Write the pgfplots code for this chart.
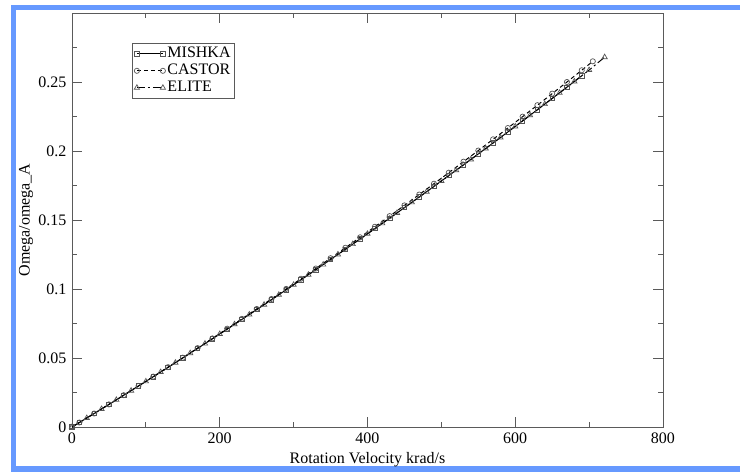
\documentclass[border=0pt]{standalone}
\usepackage{fontspec}
\setmainfont{Liberation Serif}
\usepackage{pgfplots}
\pgfplotsset{compat=1.18}
\definecolor{frameblue}{RGB}{102,153,255}
\definecolor{axgray}{RGB}{90,90,90}
\definecolor{mkgray}{RGB}{85,85,85}
\begin{document}
\fontsize{16}{19}\selectfont
\begin{tikzpicture}
\fill[white] (-72pt,-45pt) rectangle (668pt,427pt);
\fill[frameblue] (-61pt,-45pt) rectangle (-56pt,422pt);
\fill[frameblue] (-61pt,417pt) rectangle (668pt,422pt);
\fill[frameblue] (-61pt,-45pt) rectangle (668pt,-39pt);
\begin{axis}[
  at={(0pt,0pt)}, anchor=south west,
  scale only axis, width=591pt, height=414pt,
  xmin=0, xmax=800, ymin=0, ymax=0.3,
  xtick={0,200,400,600,800}, minor xtick={100,300,500,700},
  ytick={0,0.05,0.1,0.15,0.2,0.25},
  minor ytick={0.025,0.075,0.125,0.175,0.225,0.275},
  tick align=inside,
  major tick length=10pt, minor tick length=5pt,
  axis line style={axgray, line width=0.8pt},
  every tick/.style={axgray, line width=0.8pt},
  scaled y ticks=false,
  yticklabel style={/pgf/number format/fixed, /pgf/number format/precision=3},
  /pgf/number format/assume math mode=true,
  tick label style={font=\fontsize{16}{19}\selectfont},
  label style={font=\fontsize{16}{19}\selectfont},
  xlabel={Rotation Velocity krad/s},
  ylabel={Omega/omega\_A},
  xlabel style={at={(axis description cs:0.5,-0.078)}, anchor=center},
  ylabel style={at={(axis description cs:-0.0778,0.5)}, anchor=center},
  legend style={at={(axis description cs:0.1015,0.9275)}, anchor=north west,
    draw=axgray, line width=0.6pt, font=\fontsize{16}{18.5}\selectfont,
    inner xsep=2pt, inner ysep=2pt, row sep=0pt},
  legend cell align=left,
  legend image code/.code={\draw[#1] plot coordinates {(0pt,0pt) (26pt,0pt)}; \path (28pt,0pt);},
]
\addplot[black, line width=1pt, mark=square, mark size=2.2pt,
  mark options={solid, draw=mkgray, line width=0.7pt}] coordinates {
(0,0) (10,0.00325) (30,0.00978) (50,0.01636) (70,0.02300) (90,0.02969)
(110,0.03643) (130,0.04322) (150,0.05006) (170,0.05696) (190,0.06391)
(210,0.07091) (230,0.07796) (250,0.08506) (270,0.09222) (290,0.09943)
(310,0.10669) (330,0.11400) (350,0.12136) (370,0.12878) (390,0.13625)
(410,0.14377) (430,0.15134) (450,0.15896) (470,0.16664) (490,0.17437)
(510,0.18215) (530,0.18998) (550,0.19786) (570,0.20580) (590,0.21379)
(610,0.22183) (630,0.22992) (650,0.23806) (670,0.24626) (690,0.25451)
};
\addlegendentry{MISHKA}
\addplot[black, line width=1pt, dash pattern=on 4pt off 3pt, mark=o, mark size=2.6pt,
  mark options={solid, draw=mkgray, line width=0.7pt}] coordinates {
(0,0) (10,0.00325) (30,0.00979) (50,0.01638) (70,0.02304) (90,0.02975)
(110,0.03652) (130,0.04335) (150,0.05023) (170,0.05718) (190,0.06419)
(210,0.07125) (230,0.07837) (250,0.08554) (270,0.09279) (290,0.10008)
(310,0.10744) (330,0.11485) (350,0.12232) (370,0.12986) (390,0.13746)
(410,0.14511) (430,0.15282) (450,0.16058) (470,0.16842) (490,0.17631)
(510,0.18426) (530,0.19227) (550,0.20033) (570,0.20846) (590,0.21665)
(610,0.22490) (630,0.23321) (650,0.24157) (670,0.25000) (690,0.25850)
(705,0.26500)
};
\addlegendentry{CASTOR}
\addplot[black, line width=1pt, dash pattern=on 8pt off 3pt on 2pt off 3pt, mark=triangle, mark size=3pt,
  mark options={solid, draw=mkgray, line width=0.7pt}] coordinates {
(0,0) (20,0.00651) (40,0.01306) (60,0.01967) (80,0.02634) (100,0.03305)
(120,0.03982) (140,0.04663) (160,0.05350) (180,0.06043) (200,0.06740)
(220,0.07443) (240,0.08150) (260,0.08863) (280,0.09582) (300,0.10305)
(320,0.11034) (340,0.11767) (360,0.12506) (380,0.13251) (400,0.14000)
(420,0.14755) (440,0.15514) (460,0.16279) (480,0.17050) (500,0.17825)
(520,0.18606) (540,0.19391) (560,0.20182) (580,0.20979) (600,0.21780)
(620,0.22587) (640,0.23398) (660,0.24215) (680,0.25038) (700,0.25865)
(721,0.26800)
};
\addlegendentry{ELITE}
\end{axis}
\end{tikzpicture}
\end{document}
